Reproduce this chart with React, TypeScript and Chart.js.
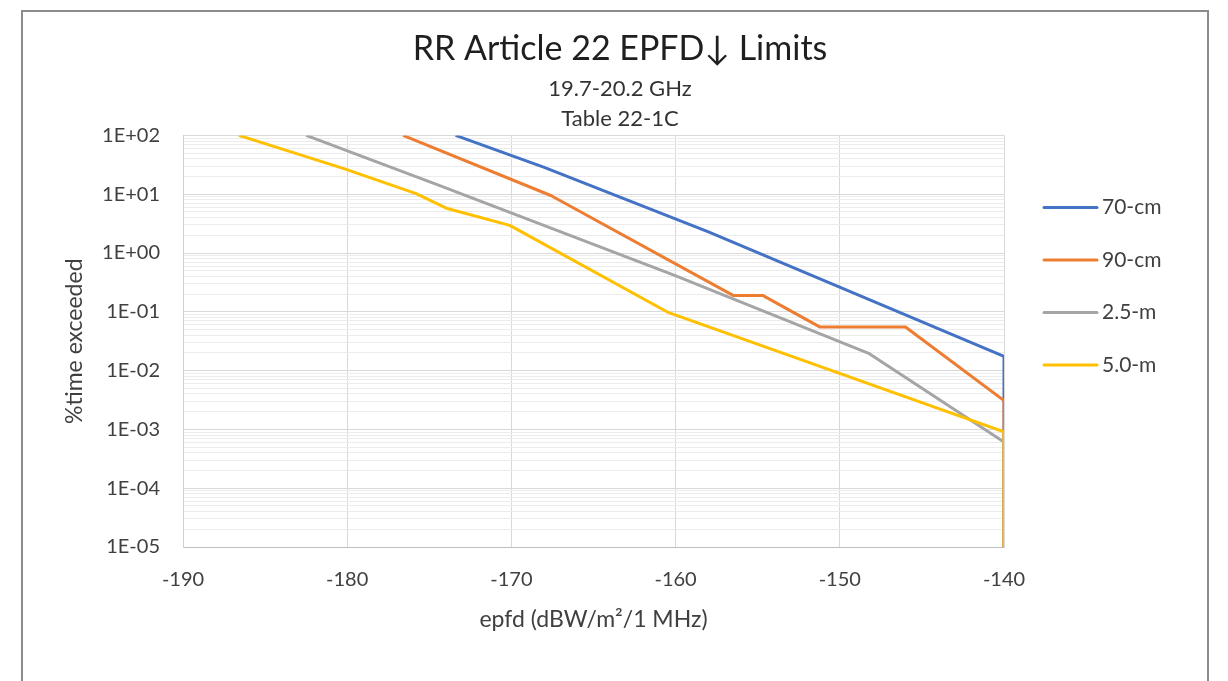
import React, { useEffect, useRef } from 'react';
import { Chart, registerables } from 'chart.js';

Chart.register(...registerables);

const chartTitle = 'RR Article 22 EPFD\u2193 Limits';
const chartSubtitle = ['19.7-20.2 GHz', 'Table 22-1C'];
const xAxisTitle = 'epfd (dBW/m\u00b2/1 MHz)';
const yAxisTitle = '%time exceeded';

const seriesNames = ['70-cm', '90-cm', '2.5-m', '5.0-m'];
const seriesColors = ['#4472C4', '#ED7D31', '#A5A5A5', '#FFC000'];

const epfd70cm = [-173.4, -168.0, -158.0, -140.0, -140.0];
const time70cm = [100, 28.6, 2.29, 0.0175, 0.00001];

const epfd90cm = [-176.6, -167.6, -156.5, -154.7, -151.2, -146.0, -140.0, -140.0];
const time90cm = [100, 9.5, 0.19, 0.19, 0.055, 0.055, 0.0031, 0.00001];

const epfd25m = [-182.5, -174.4, -160.1, -148.2, -140.0, -140.0];
const time25m = [100, 14.1, 0.42, 0.0194, 0.00061, 0.00001];

const epfd50m = [-186.6, -180.2, -175.8, -173.9, -170.1, -160.5, -140.0, -140.0];
const time50m = [100, 27.2, 10.2, 5.7, 2.95, 0.099, 0.00091, 0.00001];

const xTicks = [-190, -180, -170, -160, -150, -140];
const yDecades = [-5, -4, -3, -2, -1, 0, 1, 2];

const FONT = "Lato, 'Open Sans', sans-serif";
const TEXT = '#404040';

function isDecade(v: number) {
  const l = Math.log10(v);
  return Math.abs(l - Math.round(l)) < 1e-6;
}

function decadeLabel(v: number) {
  const e = Math.round(Math.log10(v));
  return '1E' + (e < 0 ? '-' : '+') + String(Math.abs(e)).padStart(2, '0');
}

function buildLogTicks() {
  const out: { value: number }[] = [];
  for (let i = 0; i < yDecades.length - 1; i++) {
    for (let m = 1; m <= 9; m++) {
      out.push({ value: Number((m * Math.pow(10, yDecades[i])).toPrecision(6)) });
    }
  }
  out.push({ value: Math.pow(10, yDecades[yDecades.length - 1]) });
  return out;
}

const sideLegend = {
  id: 'sideLegend',
  afterDraw(chart: any) {
    const { ctx, chartArea } = chart;
    ctx.save();
    chart.data.datasets.forEach((ds: any, i: number) => {
      const y = chartArea.top + 72 + i * 52.5;
      const x0 = chartArea.right + 40;
      ctx.strokeStyle = ds.borderColor;
      ctx.lineWidth = 3;
      ctx.lineCap = 'round';
      ctx.beginPath();
      ctx.moveTo(x0, y);
      ctx.lineTo(x0 + 53, y);
      ctx.stroke();
      ctx.fillStyle = TEXT;
      ctx.font = `21px ${FONT}`;
      ctx.textAlign = 'left';
      ctx.textBaseline = 'middle';
      ctx.fillText(ds.label, x0 + 58, y);
    });
    ctx.restore();
  },
};

export default function App() {
  const ref = useRef<HTMLCanvasElement>(null);

  useEffect(() => {
    const canvas = ref.current;
    if (!canvas) return;
    const xs = [epfd70cm, epfd90cm, epfd25m, epfd50m];
    const ys = [time70cm, time90cm, time25m, time50m];
    const chart = new Chart(canvas, {
      type: 'line',
      data: {
        datasets: seriesNames.map((name, i) => ({
          label: name,
          data: xs[i].map((x, j) => ({ x, y: ys[i][j] })),
          borderColor: seriesColors[i],
          backgroundColor: seriesColors[i],
          borderWidth: 3,
          pointRadius: 0,
          pointHoverRadius: 0,
          tension: 0,
          fill: false,
          borderJoinStyle: 'round',
          order: seriesNames.length - 1 - i,
        })),
      },
      options: {
        responsive: false,
        animation: false,
        devicePixelRatio: 1,
        events: [],
        layout: { padding: { left: 10, right: 0, top: 0, bottom: 0 } },
        plugins: {
          legend: { display: false },
          tooltip: { enabled: false },
          title: {
            display: true,
            text: chartTitle,
            color: '#1f1f1f',
            font: { family: FONT, size: 34, weight: 'normal', lineHeight: 1.2 },
            padding: { top: 16.6, bottom: 0 },
          },
          subtitle: {
            display: true,
            text: chartSubtitle,
            color: '#333333',
            font: { family: FONT, size: 22, weight: 'normal', lineHeight: 30 / 22 },
            padding: { top: 5, bottom: 1 },
          },
        },
        scales: {
          x: {
            type: 'linear',
            min: -190,
            max: -140,
            afterBuildTicks: (s: any) => {
              s.ticks = xTicks.map((v) => ({ value: v }));
            },
            afterFit: (s: any) => {
              s.height = 134;
            },
            grid: { color: '#d9d9d9', lineWidth: 1, drawTicks: false },
            border: { display: true, color: '#bfbfbf', width: 1 },
            ticks: {
              padding: 21,
              color: TEXT,
              font: { family: FONT, size: 20 },
              callback: (v: any) => String(v),
              autoSkip: false,
              maxRotation: 0,
            },
            title: {
              display: true,
              text: xAxisTitle,
              color: TEXT,
              font: { family: FONT, size: 23, weight: 'normal' },
              padding: { top: 0, bottom: 48 },
            },
          },
          y: {
            type: 'logarithmic',
            position: 'left',
            min: 1e-5,
            max: 100,
            afterBuildTicks: (s: any) => {
              s.ticks = buildLogTicks();
            },
            afterFit: (s: any) => {
              s.width = 150;
            },
            grid: {
              color: (c: any) => (c.tick && isDecade(c.tick.value) ? '#d9d9d9' : '#ececec'),
              lineWidth: 1,
              drawTicks: false,
            },
            border: { display: true, color: '#d0d0d0', width: 1 },
            ticks: {
              padding: 23,
              color: TEXT,
              font: { family: FONT, size: 20 },
              autoSkip: false,
              callback: (v: any) => (isDecade(Number(v)) ? decadeLabel(Number(v)) : ''),
            },
            title: {
              display: true,
              text: yAxisTitle,
              color: TEXT,
              font: { family: FONT, size: 23, weight: 'normal' },
              padding: { top: 28, bottom: 0 },
            },
          },
          legendSpace: {
            type: 'linear',
            position: 'right',
            display: true,
            afterFit: (s: any) => {
              s.width = 203;
            },
            grid: { display: false, drawTicks: false },
            border: { display: false },
            ticks: { display: false },
            title: { display: false },
          },
        },
      },
      plugins: [sideLegend],
    } as any);
    return () => chart.destroy();
  }, []);

  return (
    <div
      style={{
        position: 'absolute',
        left: 0,
        top: 0,
        width: 1228,
        height: 681,
        background: '#ffffff',
        overflow: 'hidden',
      }}
    >
      <div
        style={{
          position: 'absolute',
          left: 21,
          top: 10,
          width: 1184,
          height: 671,
          borderLeft: '2px solid #8c8c8c',
          borderTop: '2px solid #8c8c8c',
          borderRight: '2px solid #8c8c8c',
        }}
      >
        <canvas ref={ref} width={1184} height={669} style={{ display: 'block', width: 1184, height: 669 }} />
      </div>
    </div>
  );
}
